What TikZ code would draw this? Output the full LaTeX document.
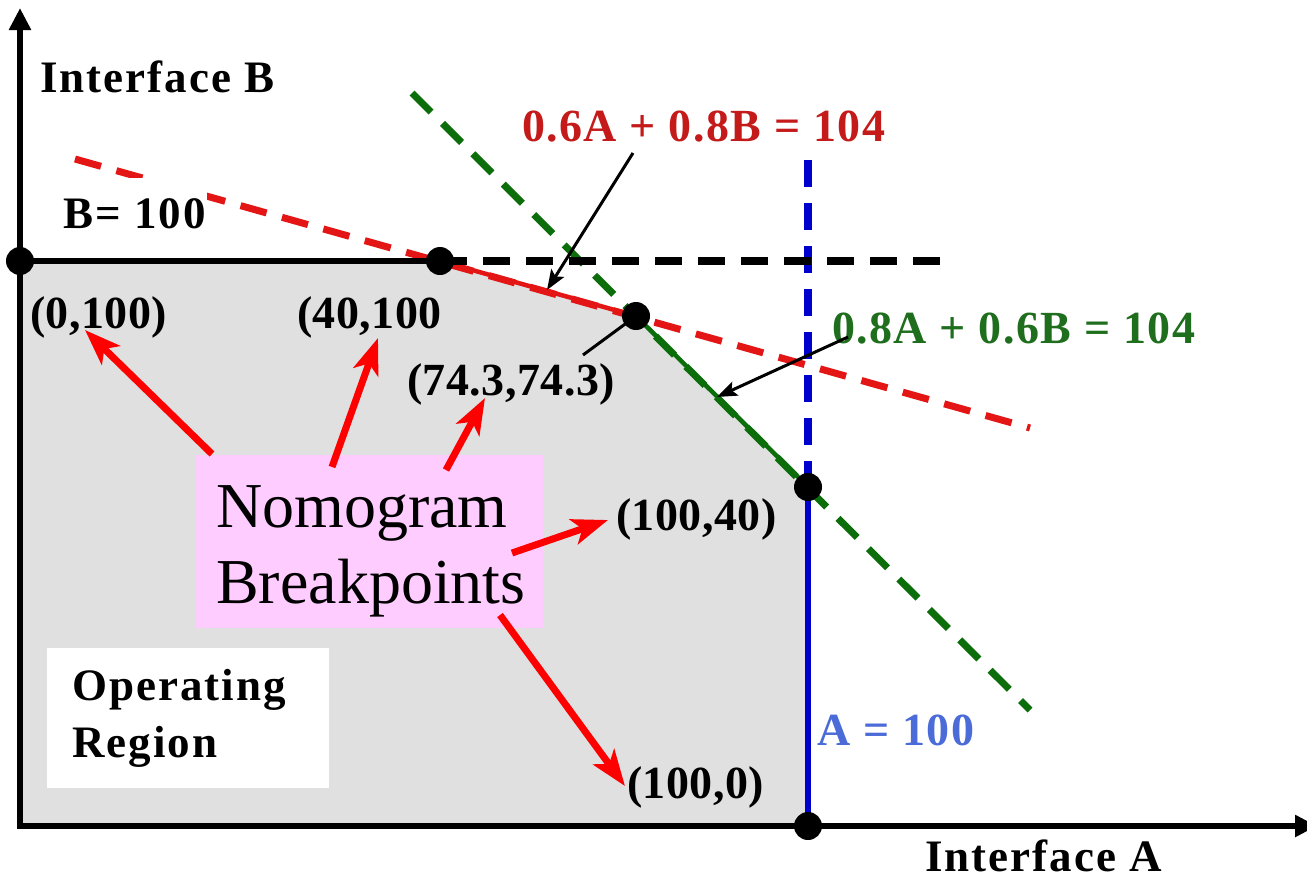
\documentclass[tikz,border=0pt]{standalone}
\usepackage{fontspec}
\setmainfont{Liberation Serif}
\newfontfamily\widefont[LetterSpace=4.5]{Liberation Serif Bold}
\newfontfamily\medfont[LetterSpace=3]{Liberation Serif Bold}
\newfontfamily\crdfont[LetterSpace=1]{Liberation Serif Bold}
\usetikzlibrary{arrows.meta}
\definecolor{grayfill}{HTML}{E0E0E0}
\definecolor{nbpink}{HTML}{FFCCFF}
\definecolor{redline}{HTML}{E41515}
\definecolor{arrowred}{HTML}{FF0000}
\definecolor{redtext}{HTML}{C41A1A}
\definecolor{greenline}{HTML}{0B6E0B}
\definecolor{greentext}{HTML}{1E6E1E}
\definecolor{blueline}{HTML}{0000CC}
\definecolor{bluetext}{HTML}{4A6BD8}
\begin{document}
\begin{tikzpicture}[x=1pt,y=-1pt,
  txt/.style={inner sep=0pt, anchor=base west},
  lbl/.style={txt, font=\widefont\fontsize{45}{56}\selectfont},
  coordlbl/.style={txt, font=\crdfont\fontsize{46}{56}\selectfont},
  eqn/.style={txt, font=\medfont\fontsize{46}{56}\selectfont},
  bigtxt/.style={txt, font=\fontsize{64}{76}\selectfont},
  dot/.style={circle, fill=black, minimum size=28pt, inner sep=0pt},
  redarrow/.style={draw=arrowred, line width=7pt, -{Stealth[length=36pt,width=26pt,inset=9pt]}},
  blkarrow/.style={draw=black, line width=3pt, -{Stealth[length=20pt,width=15pt,inset=4pt]}},
  axis/.style={draw=black, line width=5.5pt, -{Triangle[length=22pt,width=21pt]}},
  dashline/.style={dash pattern=on 27pt off 16pt},
]
\useasboundingbox (0,0) rectangle (1307,881);
\fill[white] (0,0) rectangle (1307,881);

% key coordinates
\coordinate (o) at (20,826);
\coordinate (c0) at (20,261);
\coordinate (c1) at (440,261);
\coordinate (c2) at (636,316);
\coordinate (c3) at (808,487);
\coordinate (c4) at (808,826);
\coordinate (ytop) at (20,8);
\coordinate (xend) at (1317,826);
\coordinate (r1) at (75,159);
\coordinate (r2) at (1030,428);
\coordinate (g1) at (412,93);
\coordinate (g2) at (1030,710);
\coordinate (b1) at (808,160);
\coordinate (k2) at (950,261);

% operating region
\fill[grayfill] (o) -- (c0) -- (c1) -- (c2) -- (c3) -- (c4) -- cycle;

% boxes
\node[fill=white, minimum width=282pt, minimum height=140pt, inner sep=0pt, anchor=north west] (opbox) at (47,648) {};
\node[fill=nbpink, minimum width=347pt, minimum height=173pt, inner sep=0pt, anchor=north west] (nb) at (196,455) {};

% constraint lines
\draw[redline, line width=7pt, dashline] (r1) -- (r2);
\draw[redline, line width=4.5pt] (c1) -- (c2);
\draw[greenline, line width=7pt, dashline] (g1) -- (g2);
\draw[greenline, line width=4.5pt] (c2) -- (c3);
\draw[blueline, line width=8pt, dashline] (b1) -- (c3);
\draw[blueline, line width=5.5pt] (c3) -- (c4);
\draw[black, line width=5.5pt] (c0) -- (c1);
\draw[black, line width=8pt, dashline] (c1) -- (k2);

% B = 100 label (covers the red line)
\node[lbl, fill=white, inner xsep=1pt, text height=50pt, text depth=12pt] (blab) at (62,228) {B= 100};

% axes
\draw[axis] (o) -- (ytop);
\draw[axis] ([xshift=-2.75pt]o) -- (xend);

% labels
\node[lbl] (ib) at (40,92) {Interface B};
\node[lbl] (ia) at (925,871) {Interface A};
\node[eqn, text=redtext] (eq1) at (522,141) {0.6A + 0.8B = 104};
\node[eqn, text=greentext] (eq2) at (832,343) {0.8A + 0.6B = 104};
\node[eqn, text=bluetext] (eqa) at (817,745) {A = 100};
\node[coordlbl] (l0) at (30,328) {(0,100)};
\node[coordlbl] (l1) at (297,328) {(40,100};
\node[coordlbl] (l2) at (407,395) {(74.3,74.3)};
\node[coordlbl] (l3) at (616,530) {(100,40)};
\node[coordlbl] (l4) at (627,798) {(100,0)};
\node[bigtxt] (nom1) at (216,527) {Nomogram};
\node[bigtxt] (nom2) at (216,603) {Breakpoints};
\node[lbl] (op1) at (72,700) {Operating};
\node[lbl] (op2) at (72,757) {Region};

% black pointer arrows
\coordinate (k1s) at (633,153);
\coordinate (k1e) at (547,290);
\coordinate (k2s) at (848,337);
\coordinate (k2e) at (717,397);
\coordinate (k3s) at (583,355);
\draw[blkarrow] (k1s) -- (k1e);
\draw[blkarrow] (k2s) -- (k2e);
\draw[black, line width=3pt] (k3s) -- (c2);

% breakpoints
\node[dot] (d0) at (c0) {};
\node[dot] (d1) at (c1) {};
\node[dot] (d2) at (c2) {};
\node[dot] (d3) at (c3) {};
\node[dot] (d4) at (c4) {};

% red arrows from the Nomogram box
\coordinate (a1s) at (212,454); \coordinate (a1e) at (85,330);
\coordinate (a2s) at (332,467); \coordinate (a2e) at (378,338);
\coordinate (a3s) at (446,470); \coordinate (a3e) at (485,398);
\coordinate (a4s) at (512,553); \coordinate (a4e) at (608,520);
\coordinate (a5s) at (500,615); \coordinate (a5e) at (625,786);
\draw[redarrow] (a1s) -- (a1e);
\draw[redarrow] (a2s) -- (a2e);
\draw[redarrow] (a3s) -- (a3e);
\draw[redarrow] (a4s) -- (a4e);
\draw[redarrow] (a5s) -- (a5e);
\end{tikzpicture}
\end{document}
